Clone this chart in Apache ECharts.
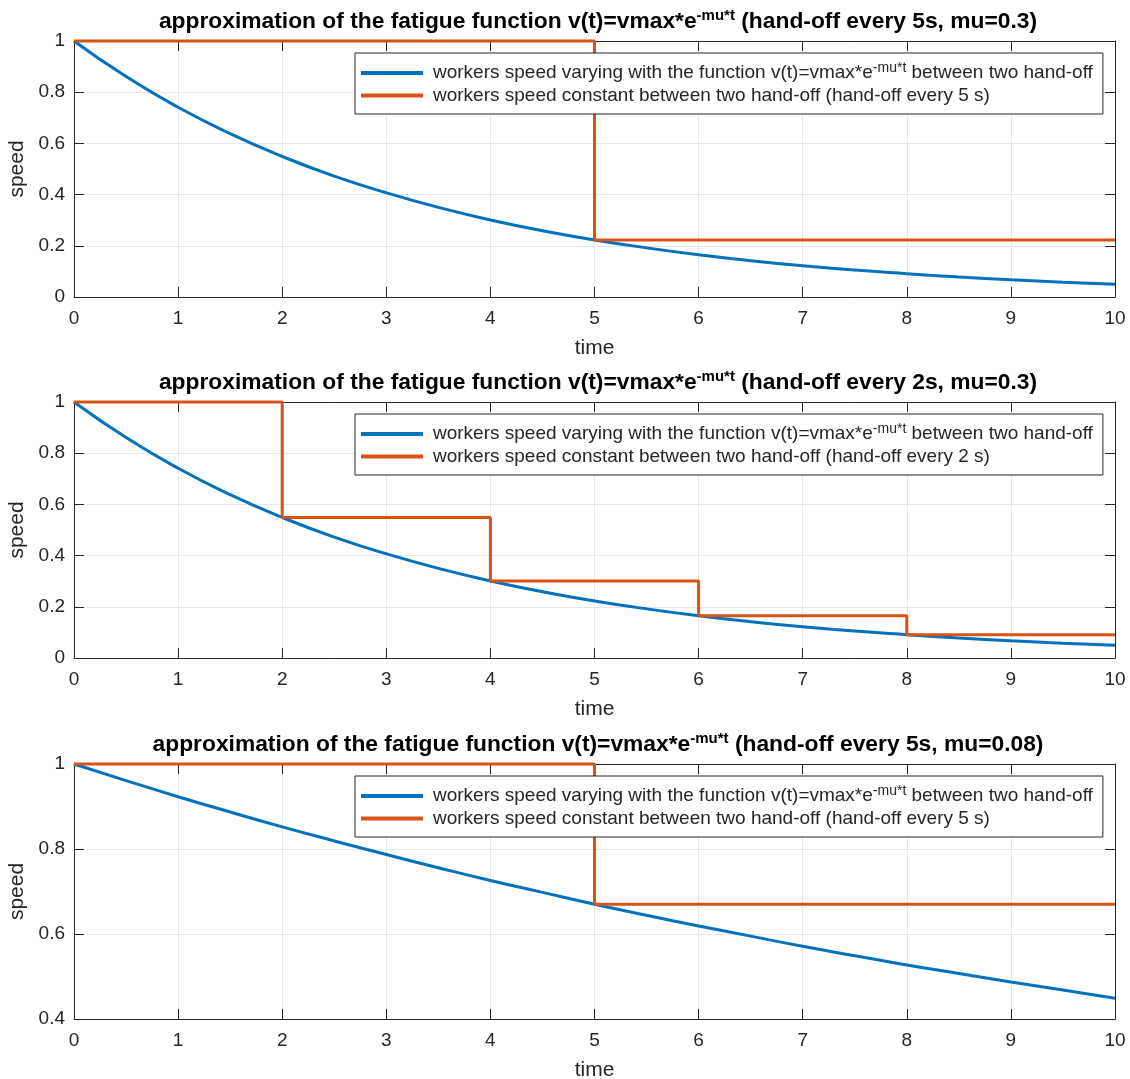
<!DOCTYPE html>
<html><head><meta charset="utf-8">
<script src="https://cdn.jsdelivr.net/npm/echarts@6/dist/echarts.min.js"></script>
<style>html,body{margin:0;padding:0;background:#fff}#c{width:1130px;height:1079px}</style>
</head><body><div id="c"></div>
<script>
// ---- data ----
const timeSteps = [0,0.5,1,1.5,2,2.5,3,3.5,4,4.5,5,5.5,6,6.5,7,7.5,8,8.5,9,9.5,10];
const speedMu03 = [1,0.861,0.741,0.638,0.549,0.472,0.407,0.350,0.301,0.259,0.223,0.192,0.165,0.142,0.122,0.105,0.091,0.078,0.067,0.058,0.050];
const speedMu008 = [1,0.961,0.923,0.887,0.852,0.819,0.787,0.756,0.726,0.698,0.670,0.644,0.619,0.595,0.571,0.549,0.527,0.507,0.487,0.468,0.449];
const stepTimes5 = [0,5,5,10];
const stepSpeed5Mu03 = [1,1,0.223,0.223];
const stepTimes2 = [0,2,2,4,4,6,6,8,8,10];
const stepSpeed2Mu03 = [1,1,0.549,0.549,0.301,0.301,0.165,0.165,0.091,0.091];
const stepSpeed5Mu008 = [1,1,0.670,0.670];
const xTicks = [0,1,2,3,4,5,6,7,8,9,10];
const titles = [
  ['approximation of the fatigue function v(t)=vmax*e','-mu*t',' (hand-off every 5s, mu=0.3)'],
  ['approximation of the fatigue function v(t)=vmax*e','-mu*t',' (hand-off every 2s, mu=0.3)'],
  ['approximation of the fatigue function v(t)=vmax*e','-mu*t',' (hand-off every 5s, mu=0.08)']
];
const blueName = 'workers speed varying with the function v(t)=vmax*e^-mu*t between two hand-off';
const orangeNames = [
  'workers speed constant between two hand-off (hand-off every 5 s)',
  'workers speed constant between two hand-off (hand-off every 2 s) ',
  'workers speed constant between two hand-off (hand-off every 5 s)  '
];
const yRanges = [[0,1],[0,1],[0.4,1]];

// ---- layout ----
const BLUE = '#0072BD', ORANGE = '#D95319', INK = '#262626', GRIDC = '#e6e6e6';
const FONT = 'Liberation Sans, Arial, Helvetica, sans-serif';
const tops = [41, 402, 764];
const heights = [256, 256, 255];
const L = 74, R = 15;

function zip(a,b){ return a.map((v,i)=>[v,b[i]]); }
const blueData = [zip(timeSteps, speedMu03), zip(timeSteps, speedMu03), zip(timeSteps, speedMu008)];
const orangeData = [zip(stepTimes5, stepSpeed5Mu03), zip(stepTimes2, stepSpeed2Mu03), zip(stepTimes5, stepSpeed5Mu008)];

const option = {animation:false, backgroundColor:'#fff', title:[], grid:[], xAxis:[], yAxis:[], series:[], legend:[]};
const supRich = {
  b:{fontFamily:FONT,fontWeight:'bold',fontSize:22.8,color:'#000',lineHeight:28},
  s:{fontFamily:FONT,fontWeight:'bold',fontSize:15,color:'#000',lineHeight:28,padding:[0,0,12,0]}
};
const legRich = {
  n:{fontFamily:FONT,fontSize:19,color:INK,lineHeight:23},
  s:{fontFamily:FONT,fontSize:14,color:INK,lineHeight:23,padding:[0,0,10,0]}
};
for (let i=0;i<3;i++){
  const t = titles[i];
  option.title.push({text:'{b|'+t[0]+'}{s|'+t[1]+'}{b|'+t[2]+'}', left:593, textAlign:'center', top:tops[i]-38,
    textStyle:{rich:supRich}});
  option.grid.push({left:L, right:R, top:tops[i], height:heights[i], containLabel:false, outerBoundsMode:'none'});
  const axLine = {show:true, onZero:false, lineStyle:{color:INK,width:1}};
  const tick = {show:true,inside:true,length:10,lineStyle:{color:INK}};
  option.xAxis.push({type:'value', gridIndex:i, min:0, max:10, interval:1, position:'bottom',
    axisLine:axLine, axisTick:tick,
    axisLabel:{color:INK,fontSize:19,fontFamily:FONT,margin:12,formatter:v=>xTicks.includes(v)?String(v):''},
    splitLine:{show:true,lineStyle:{color:GRIDC,width:1}},
    name:'time', nameLocation:'middle', nameGap:41, nameTextStyle:{color:INK,fontSize:21,fontFamily:FONT}});
  option.xAxis.push({type:'value', gridIndex:i, min:0, max:10, interval:1, position:'top',
    axisLine:axLine, axisTick:tick, axisLabel:{show:false}, splitLine:{show:false}});
  option.yAxis.push({type:'value', gridIndex:i, min:yRanges[i][0], max:yRanges[i][1], interval:0.2, position:'left',
    axisLine:axLine, axisTick:tick,
    axisLabel:{color:INK,fontSize:19,fontFamily:FONT,margin:9},
    splitLine:{show:true,lineStyle:{color:GRIDC,width:1}},
    name:'speed', nameLocation:'middle', nameGap:39, nameRotate:90, nameTextStyle:{color:INK,fontSize:21,fontFamily:FONT}});
  option.yAxis.push({type:'value', gridIndex:i, min:yRanges[i][0], max:yRanges[i][1], interval:0.2, position:'right',
    axisLine:axLine, axisTick:tick, axisLabel:{show:false}, splitLine:{show:false}});
  option.series.push({type:'line', name:blueName, xAxisIndex:2*i, yAxisIndex:2*i, data:blueData[i],
    showSymbol:false, symbol:'none', smooth:true, clip:false, lineStyle:{color:BLUE,width:3}, itemStyle:{color:BLUE}});
  option.series.push({type:'line', name:orangeNames[i], xAxisIndex:2*i, yAxisIndex:2*i, data:orangeData[i],
    showSymbol:false, symbol:'none', clip:false, lineStyle:{color:ORANGE,width:3}, itemStyle:{color:ORANGE}});
  option.legend.push({data:[blueName, orangeNames[i]], orient:'vertical', left:355, top:tops[i]+12,
    backgroundColor:'#fff', borderColor:INK, borderWidth:1, padding:[8,10,9,6], itemGap:1,
    itemWidth:62, itemHeight:4, icon:'rect', selectedMode:false,
    formatter: n => n===blueName
      ? '{n|workers speed varying with the function v(t)=vmax*e}{s|-mu*t}{n| between two hand-off}'
      : '{n|'+n.trim()+'}',
    textStyle:{rich:legRich, padding:[0,0,0,5]}});
}
const chart = echarts.init(document.getElementById('c'));
chart.setOption(option);
</script></body></html>
